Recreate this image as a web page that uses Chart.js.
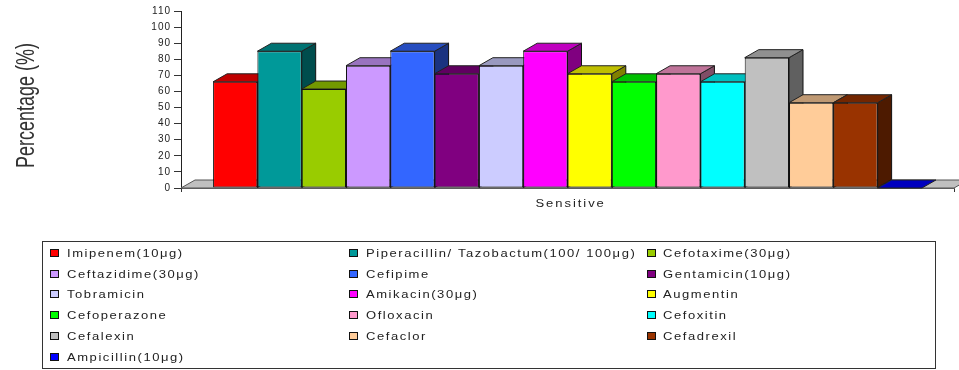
<!DOCTYPE html>
<html>
<head>
<meta charset="utf-8">
<style>
    html, body { margin: 0; padding: 0; background: #fff; }
    #wrap { width: 959px; height: 370px; }
    canvas { display: block; }
</style>
<script src="https://cdn.jsdelivr.net/npm/chart.js@4/dist/chart.umd.min.js"></script>
</head>
<body>
<div id="wrap"><canvas id="chart" width="959" height="370"></canvas></div>
<script>
const categories = ['Sensitive'];
const drugs = [
    'Imipenem(10μg)', 'Piperacillin/ Tazobactum(100/ 100μg)', 'Cefotaxime(30μg)',
    'Ceftazidime(30μg)', 'Cefipime', 'Gentamicin(10μg)',
    'Tobramicin', 'Amikacin(30μg)', 'Augmentin',
    'Cefoperazone', 'Ofloxacin', 'Cefoxitin',
    'Cefalexin', 'Cefaclor', 'Cefadrexil',
    'Ampicillin(10μg)',
];
const sensitive = [66, 85, 61.5, 76, 85, 71, 76, 85, 71, 66, 71, 66, 81, 53, 53, 0];
const colors = [
    '#FF0000', '#009999', '#99CC00', '#CC99FF', '#3366FF', '#800080',
    '#CCCCFF', '#FF00FF', '#FFFF00', '#00FF00', '#FF99CC', '#00FFFF',
    '#C0C0C0', '#FFCC99', '#993300', '#0000FF',
];
const yTitle = 'Percentage (%)';

const DEPTH_X = 14;
const DEPTH_Y = 8;
const LEGEND_COLS = [50, 349, 647];
const LEGEND_TEXT = [67, 366, 663];
const LEGEND_ROWS = [253, 274, 294, 315, 336, 357];

function shade(hex, f) {
    const n = parseInt(hex.slice(1), 16);
    const c = [n >> 16, (n >> 8) & 255, n & 255].map(v => Math.round(v * f));
    return `rgb(${c[0]},${c[1]},${c[2]})`;
}

function poly(ctx, pts, fill, stroke) {
    ctx.beginPath();
    pts.forEach((p, i) => (i ? ctx.lineTo(p[0], p[1]) : ctx.moveTo(p[0], p[1])));
    ctx.closePath();
    ctx.fillStyle = fill;
    ctx.fill();
    ctx.strokeStyle = stroke;
    ctx.lineWidth = 1;
    ctx.stroke();
}

// stretched, widely spaced text, the chart's axis and legend lettering
function wideText(ctx, text, x, y, sx, spacing) {
    ctx.save();
    ctx.translate(x, y);
    ctx.scale(sx, 1);
    ctx.font = '10px "Liberation Sans"';
    ctx.letterSpacing = spacing + 'px';
    ctx.fillStyle = '#222';
    ctx.textAlign = 'left';
    ctx.textBaseline = 'middle';
    ctx.fillText(text, 0, 0);
    ctx.restore();
}

const depthBars = {
    id: 'depthBars',
    beforeDraw(chart) {
        chart.ctx.letterSpacing = '1px';
    },
    beforeDatasetsDraw(chart) {
        const ctx = chart.ctx;
        const { left, right, bottom } = chart.chartArea;
        ctx.save();

        // floor of the box
        poly(ctx, [
            [left, bottom], [left + DEPTH_X, bottom - DEPTH_Y],
            [right + DEPTH_X, bottom - DEPTH_Y], [right, bottom],
        ], '#C0C0C0', '#555');

        // left to right, so each top sits over the side of its neighbour
        chart.data.datasets.forEach((ds, i) => {
            const bar = chart.getDatasetMeta(i).data[0];
            const x0 = bar.x - bar.width / 2;
            const x1 = bar.x + bar.width / 2;
            const top = bar.y;
            const base = bar.base;
            if (base - top > 0) {
                poly(ctx, [
                    [x1, top], [x1 + DEPTH_X, top - DEPTH_Y],
                    [x1 + DEPTH_X, base - DEPTH_Y], [x1, base],
                ], shade(ds.backgroundColor, 0.5), '#111');
            }
            poly(ctx, [
                [x0, top], [x0 + DEPTH_X, top - DEPTH_Y],
                [x1 + DEPTH_X, top - DEPTH_Y], [x1, top],
            ], shade(ds.backgroundColor, 0.75), '#222');
        });
        ctx.restore();
    },
    afterDraw(chart) {
        const ctx = chart.ctx;
        const xScale = chart.scales.x;
        const yScale = chart.scales.y;

        ctx.save();
        wideText(ctx, categories[0], xScale.getPixelForValue(0) - 32, 204, 1.3, 1.5);

        // rotated title, thickened across the text direction
        ctx.translate(27, (yScale.top + yScale.bottom) / 2 + 6);
        ctx.rotate(-Math.PI / 2);
        ctx.scale(1, 1.45);
        ctx.font = '18px "Liberation Sans"';
        ctx.letterSpacing = '0px';
        ctx.fillStyle = '#333';
        ctx.textAlign = 'center';
        ctx.textBaseline = 'middle';
        ctx.fillText(yTitle, 0, 0);
        ctx.restore();

        // three column legend in a box
        ctx.save();
        ctx.strokeStyle = '#333';
        ctx.lineWidth = 1;
        ctx.strokeRect(42.5, 241.5, 893, 127);
        drugs.forEach((name, i) => {
            const row = LEGEND_ROWS[Math.floor(i / 3)];
            const col = LEGEND_COLS[i % 3];
            ctx.fillStyle = colors[i];
            ctx.fillRect(col + 0.5, row - 3.5, 8, 7);
            ctx.strokeStyle = '#111';
            ctx.strokeRect(col + 0.5, row - 3.5, 8, 7);
            wideText(ctx, name, LEGEND_TEXT[i % 3], row + 1, 1.3, 1.2);
        });
        ctx.restore();
    },
};

new Chart(document.getElementById('chart'), {
    type: 'bar',
    data: {
        labels: categories,
        datasets: drugs.map((name, i) => ({
            label: name,
            data: [sensitive[i]],
            backgroundColor: colors[i],
            borderColor: '#111',
            borderWidth: 1,
            borderSkipped: false,
        })),
    },
    options: {
        responsive: false,
        animation: false,
        layout: { padding: { top: 11, right: 5, left: 0, bottom: 0 } },
        // 16 bars across 709px of the 773px plot
        datasets: { bar: { categoryPercentage: 0.917, barPercentage: 1 } },
        plugins: { legend: { display: false }, tooltip: { enabled: false } },
        scales: {
            x: {
                afterFit: (axis) => { axis.height = 182; },
                ticks: { display: false },
                grid: { drawOnChartArea: false, tickLength: 4, color: '#333' },
                border: { color: '#666', width: 1 },
            },
            y: {
                min: 0,
                max: 110,
                afterFit: (axis) => { axis.width = 181; },
                ticks: {
                    stepSize: 10,
                    padding: 3,
                    color: '#222',
                    font: { size: 10, family: '"Liberation Sans"' },
                },
                grid: { drawOnChartArea: false, tickLength: 7, color: '#333' },
                border: { color: '#222', width: 1 },
            },
        },
    },
    plugins: [depthBars],
});
</script>
</body>
</html>
